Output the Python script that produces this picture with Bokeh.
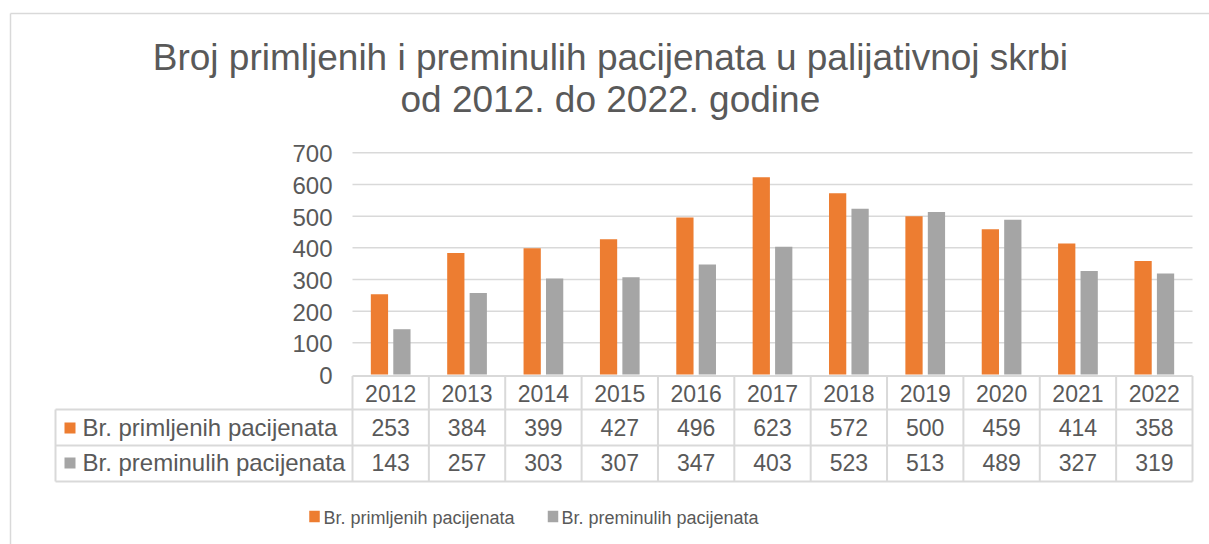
import numpy as np
from bokeh.plotting import figure
from bokeh.models import Range1d
from bokeh.core.properties import value
from bokeh.embed import file_html
from bokeh.resources import INLINE

# ---- data ----
years = ["2012", "2013", "2014", "2015", "2016", "2017", "2018", "2019", "2020", "2021", "2022"]
primljeni = [253, 384, 399, 427, 496, 623, 572, 500, 459, 414, 358]
preminuli = [143, 257, 303, 307, 347, 403, 523, 513, 489, 327, 319]
series_names = ["Br. primljenih pacijenata", "Br. preminulih pacijenata"]
y_ticks = [0, 100, 200, 300, 400, 500, 600, 700]
title_lines = ["Broj primljenih  i preminulih pacijenata u palijativnoj skrbi",
               "od 2012. do 2022.  godine"]

# ---- style / layout ----
ORANGE = "#ED7D31"
GRAY = "#A5A5A5"
TXT = "#595959"
LINE = "#D9D9D9"
FONT = value("Liberation Sans")

W, H = 1209, 544
PLOT_L, PLOT_R = 352, 1192
ZERO_Y, TOP_Y = 374, 152.3
YMAX = 700
n = len(years)
col_w = (PLOT_R - PLOT_L) / n
ys = (ZERO_Y - TOP_Y) / YMAX

p = figure(width=W, height=H, output_backend="svg", toolbar_location=None,
           x_range=Range1d(-PLOT_L / col_w, (W - PLOT_L) / col_w),
           y_range=Range1d(-(H - ZERO_Y) / ys, ZERO_Y / ys),
           x_axis_type=None, y_axis_type=None,
           min_border_left=0, min_border_right=0, min_border_top=0, min_border_bottom=0)
p.grid.visible = False
p.outline_line_color = None
p.background_fill_color = "white"
p.border_fill_color = "white"
p.extra_x_ranges = {"px": Range1d(0, W)}
p.extra_y_ranges = {"px": Range1d(H, 0)}

idx = np.arange(n)

# chart outer border (left + top)
p.segment(x0=[10, 10], y0=[13, 13], x1=[10, W], y1=[H, 13], line_color=LINE, line_width=1.5,
          x_range_name="px", y_range_name="px")

# gridlines
gvals = [v for v in y_ticks if v > 0]
p.segment(x0=[0] * len(gvals), x1=[n] * len(gvals), y0=gvals, y1=gvals,
          line_color=LINE, line_width=1.5)

# y tick labels
p.text(x=[0] * len(y_ticks), y=y_ticks, text=[str(v) for v in y_ticks],
       x_offset=-20, y_offset=1, text_align="right", text_baseline="alphabetic",
       text_font=FONT, text_font_size="24px", text_color=TXT)

# bars
bw = 0.226
off = 0.147
p.vbar(x=idx + 0.5 - off, top=primljeni, bottom=0, width=bw, fill_color=ORANGE, line_color=None)
p.vbar(x=idx + 0.5 + off, top=preminuli, bottom=0, width=bw, fill_color=GRAY, line_color=None)

# data table
T_TOP, R1, R2, R3 = 375.5, 409, 445, 481
TBL_LEFT = -(PLOT_L - 55) / col_w
p.segment(x0=[0, TBL_LEFT, TBL_LEFT, TBL_LEFT], x1=[n] * 4, y0=[T_TOP, R1, R2, R3], y1=[T_TOP, R1, R2, R3],
          line_color=LINE, line_width=2, y_range_name="px")
vx = list(range(n + 1))
p.segment(x0=vx, x1=vx, y0=[T_TOP] * len(vx), y1=[R3] * len(vx),
          line_color=LINE, line_width=2, y_range_name="px")
p.segment(x0=[TBL_LEFT], x1=[TBL_LEFT], y0=[R1], y1=[R3], line_color=LINE, line_width=2, y_range_name="px")

p.text(x=idx + 0.5, y=[393] * n, text=years, text_align="center", text_baseline="alphabetic",
       text_font=FONT, text_font_size="23px", text_color=TXT, y_range_name="px")
p.text(x=idx + 0.5, y=[427] * n, text=[str(v) for v in primljeni], text_align="center",
       text_baseline="alphabetic", text_font=FONT, text_font_size="23px", text_color=TXT, y_range_name="px")
p.text(x=idx + 0.5, y=[462] * n, text=[str(v) for v in preminuli], text_align="center",
       text_baseline="alphabetic", text_font=FONT, text_font_size="23px", text_color=TXT, y_range_name="px")

# row keys and labels
p.rect(x=[69.5, 69.5], y=[427.5, 462.5], width=11, height=11, fill_color=[ORANGE, GRAY], line_color=None,
       x_range_name="px", y_range_name="px")
p.text(x=[82, 82], y=[427, 462], text=series_names, text_align="left", text_baseline="alphabetic",
       text_font=FONT, text_font_size="24px", text_color=TXT, x_range_name="px", y_range_name="px")

# bottom legend
p.rect(x=[314, 552.5], y=[516, 516], width=10.5, height=11.5, fill_color=[ORANGE, GRAY], line_color=None,
       x_range_name="px", y_range_name="px")
p.text(x=[323, 561], y=[517, 517], text=series_names, text_align="left", text_baseline="alphabetic",
       text_font=FONT, text_font_size="18px", text_color=TXT, x_range_name="px", y_range_name="px")

# title
p.text(x=[615, 615], y=[57, 99], text=title_lines, text_align="center", text_baseline="alphabetic",
       text_font=FONT, text_font_size="37px", text_color=TXT, x_range_name="px", y_range_name="px")

open("out.html", "w").write(file_html(p, INLINE))
